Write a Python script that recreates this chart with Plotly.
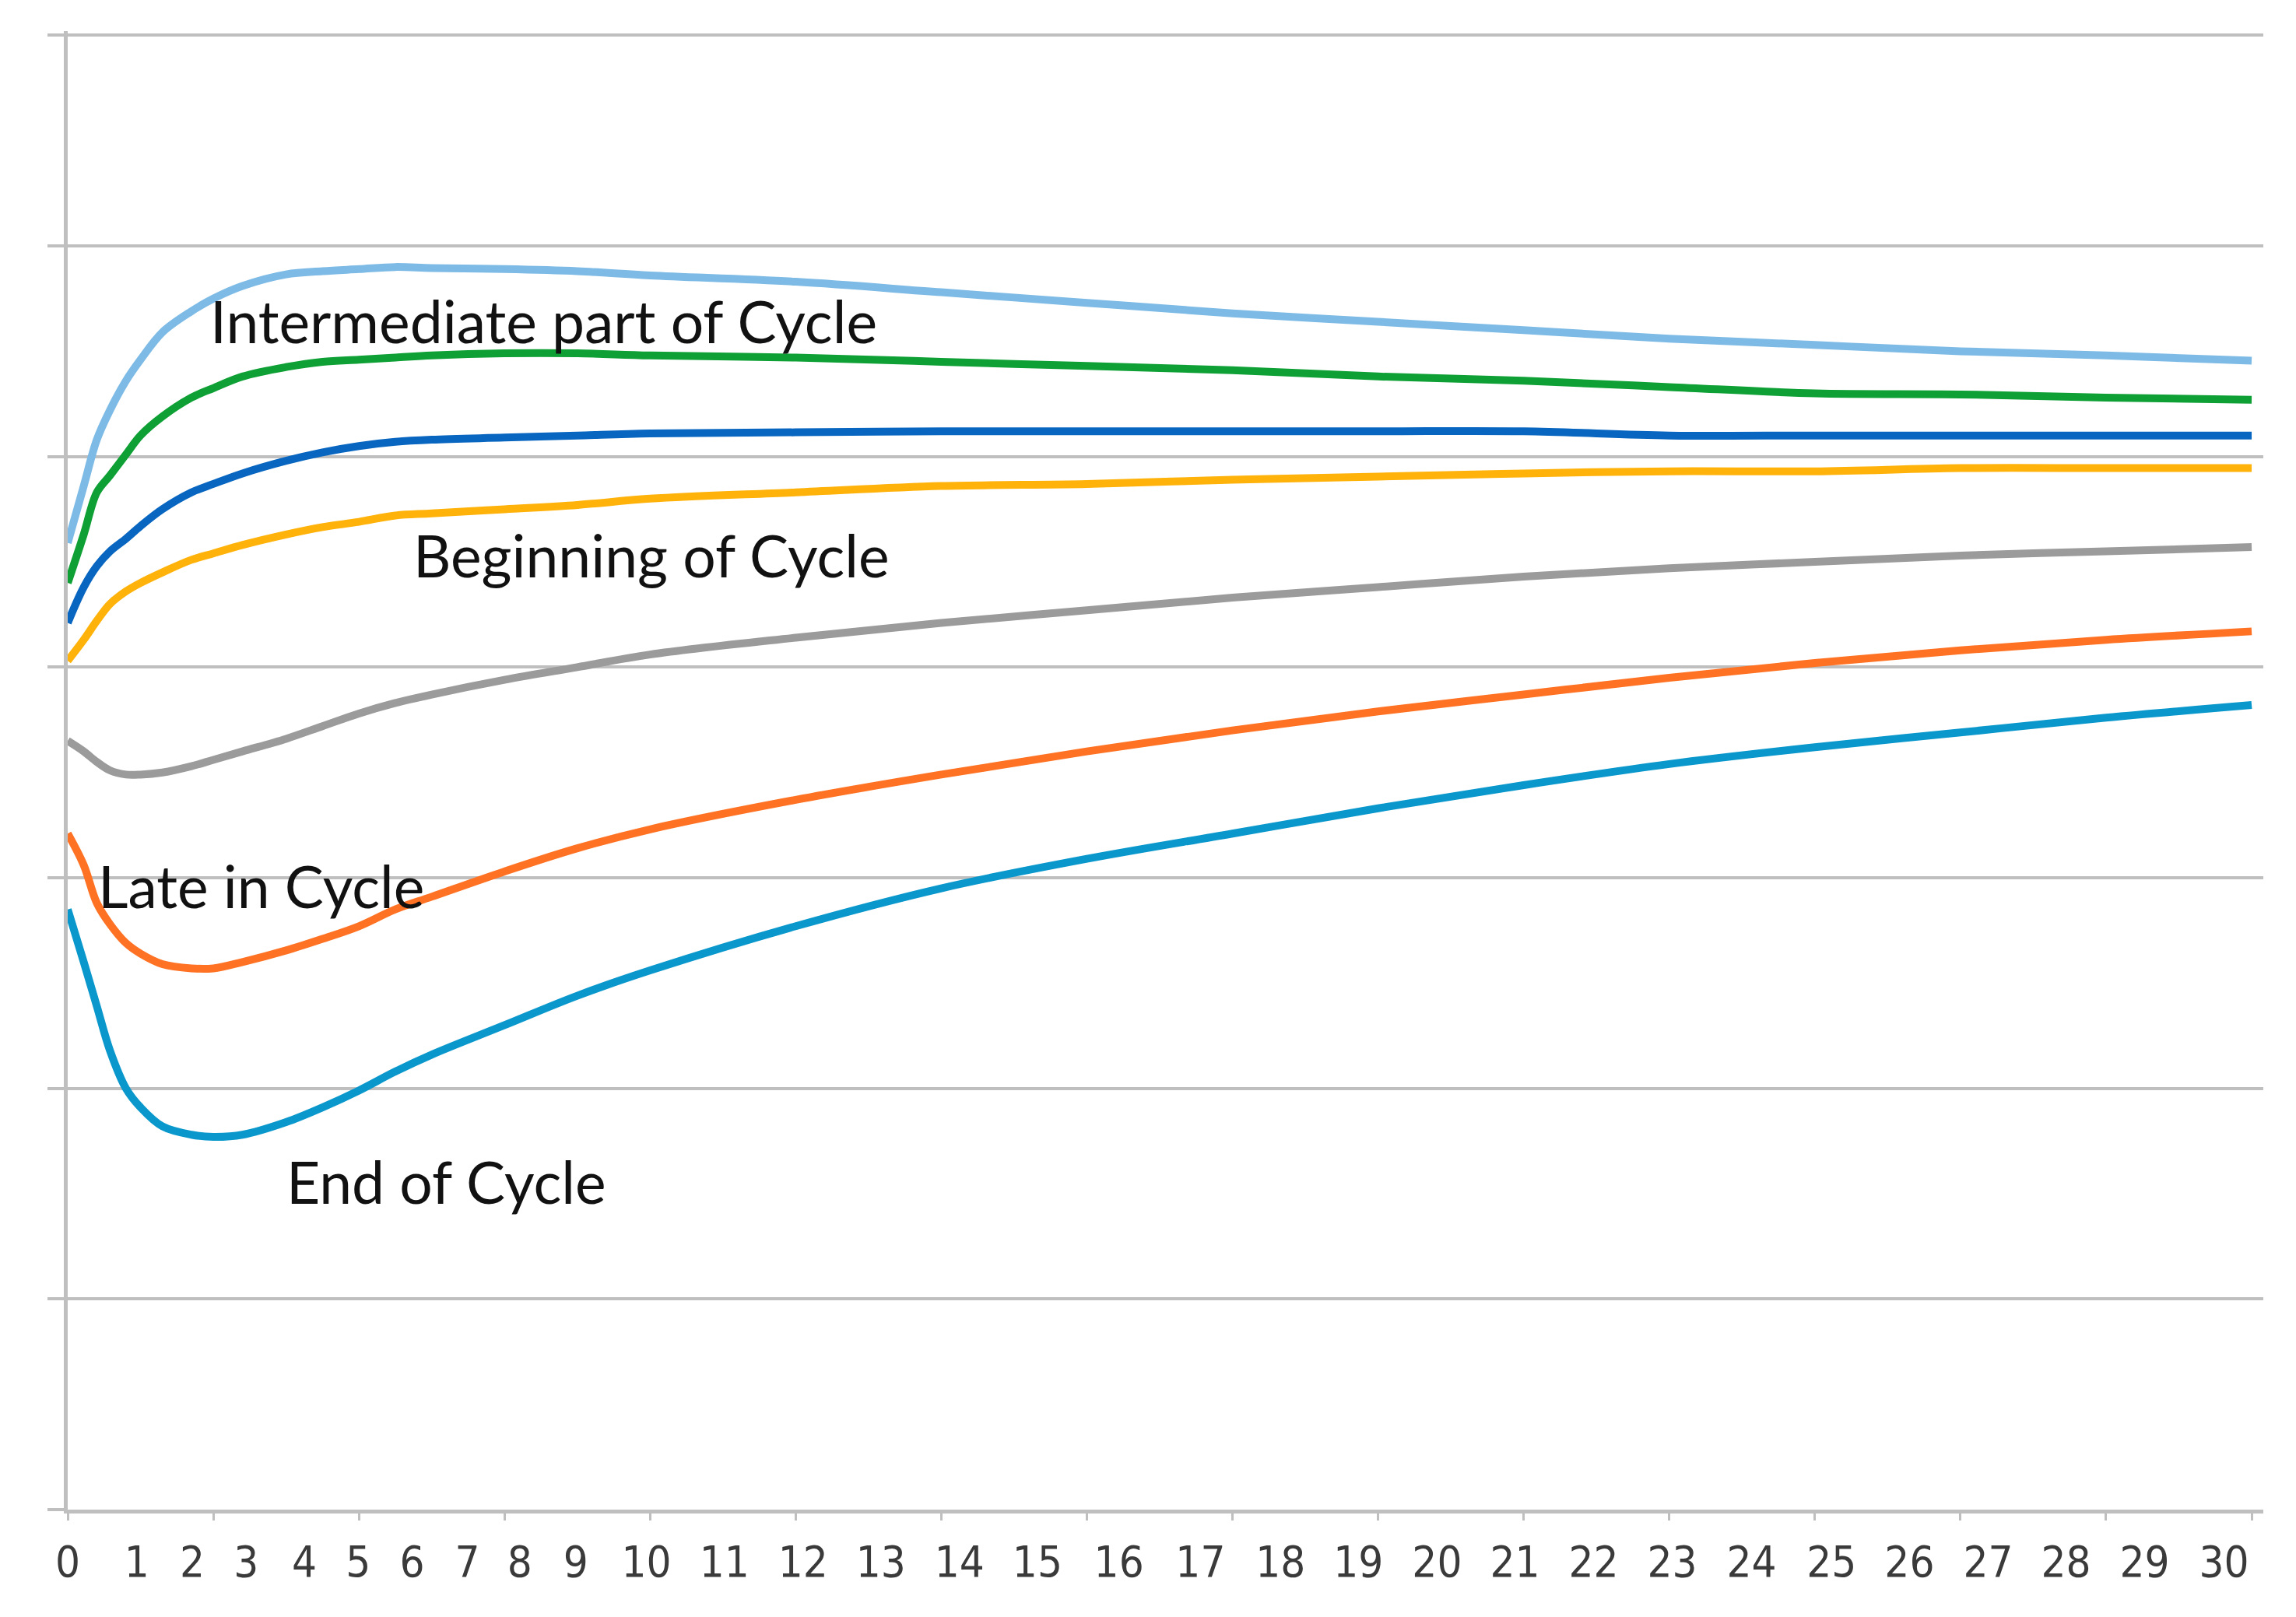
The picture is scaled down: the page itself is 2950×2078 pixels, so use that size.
import plotly.graph_objects as go

# time axis (years)
t = [0, 0.22, 0.4, 0.58, 0.8, 1.0, 1.3, 1.7, 2.0, 2.4, 3.0, 3.5, 4.0, 4.5,
     5, 6, 7, 8, 10, 12, 14, 16, 18, 20, 22, 24, 26, 28, 30]

intermediate_top = [4.59, 4.86, 5.08, 5.22, 5.36, 5.46, 5.59, 5.69, 5.75, 5.81, 5.865, 5.88, 5.89, 5.90,
                    5.895, 5.89, 5.88, 5.86, 5.83, 5.78, 5.73, 5.68, 5.64, 5.60, 5.56, 5.53, 5.50, 5.48, 5.455]
intermediate_mid = [4.40, 4.63, 4.83, 4.91, 5.01, 5.10, 5.19, 5.28, 5.325, 5.38, 5.425, 5.45, 5.46, 5.47,
                    5.48, 5.49, 5.49, 5.48, 5.47, 5.45, 5.43, 5.41, 5.38, 5.36, 5.33, 5.30, 5.295, 5.28, 5.27]
intermediate_low = [4.21, 4.38, 4.48, 4.55, 4.61, 4.67, 4.75, 4.83, 4.87, 4.92, 4.98, 5.02, 5.05, 5.07,
                    5.08, 5.09, 5.10, 5.11, 5.115, 5.12, 5.12, 5.12, 5.12, 5.12, 5.10, 5.10, 5.10, 5.10, 5.10]
beginning = [4.03, 4.13, 4.22, 4.30, 4.36, 4.40, 4.45, 4.51, 4.54, 4.58, 4.63, 4.665, 4.69, 4.72,
             4.73, 4.75, 4.77, 4.80, 4.83, 4.86, 4.87, 4.89, 4.905, 4.92, 4.93, 4.93, 4.945, 4.945, 4.945]
transition = [3.65, 3.60, 3.55, 3.51, 3.49, 3.49, 3.50, 3.53, 3.56, 3.60, 3.66, 3.72, 3.78, 3.83,
              3.87, 3.94, 4.00, 4.06, 4.14, 4.21, 4.27, 4.33, 4.38, 4.43, 4.47, 4.50, 4.53, 4.55, 4.57]
late = [3.21, 3.06, 2.88, 2.78, 2.69, 2.64, 2.59, 2.57, 2.57, 2.60, 2.655, 2.71, 2.77, 2.85,
        2.91, 3.03, 3.14, 3.23, 3.37, 3.49, 3.60, 3.70, 3.79, 3.87, 3.95, 4.02, 4.08, 4.13, 4.17]
end = [2.85, 2.60, 2.39, 2.18, 2.00, 1.91, 1.82, 1.78, 1.77, 1.78, 1.84, 1.91, 1.99, 2.08,
       2.16, 2.30, 2.44, 2.56, 2.77, 2.95, 3.09, 3.21, 3.33, 3.44, 3.54, 3.62, 3.69, 3.76, 3.82]

series_names = ["Intermediate (upper)", "Intermediate", "Intermediate (lower)",
                "Beginning of Cycle", "Transition", "Late in Cycle", "End of Cycle"]
series_values = [intermediate_top, intermediate_mid, intermediate_low, beginning, transition, late, end]
series_colors = ["#7dbbe6", "#0fa035", "#0866c0", "#ffb20a", "#9b9b9b", "#ff7224", "#0a98cc"]

# x tick labels and where they sit along the axis (as printed in the original)
tick_labels = [str(i) for i in range(31)]
label_pos = [0.0, 0.95, 1.71, 2.45, 3.25, 3.99, 4.73, 5.49, 6.21, 6.98, 7.95, 9.02, 10.10, 11.17,
             12.25, 13.32, 14.44, 15.56, 16.66, 17.73, 18.81, 19.88, 20.96, 22.04, 23.13, 24.23,
             25.30, 26.38, 27.45, 28.53, 29.62]

# text labels inside the plot
label_texts = ["Intermediate part of Cycle", "Beginning of Cycle", "Late in Cycle", "End of Cycle"]
label_x = [1.93, 4.73, 0.40, 2.98]
label_y = [5.645, 4.535, 2.965, 1.56]

GRID = "#bfbfbf"

fig = go.Figure()
for name, vals, col in zip(series_names, series_values, series_colors):
    fig.add_trace(go.Scatter(x=t, y=vals, mode="lines", name=name,
                             line=dict(color=col, width=10, shape="spline", smoothing=1.0)))

for txt, lx, ly in zip(label_texts, label_x, label_y):
    fig.add_annotation(x=lx, y=ly, xref="x", yref="y", text=txt, showarrow=False,
                       xanchor="left", yanchor="middle",
                       font=dict(family="Lato", size=75, color="#111111"))

fig.update_layout(
    width=2950, height=2078,
    margin=dict(l=79, r=50, t=32, b=146),
    paper_bgcolor="white", plot_bgcolor="white",
    showlegend=False,
)
fig.update_xaxes(
    range=[0, 30.16], showgrid=False, zeroline=False,
    showline=True, linecolor=GRID, linewidth=5,
    tickmode="array", tickvals=label_pos, ticktext=tick_labels,
    ticks="", ticklabelstandoff=14,
    tickfont=dict(family="Liberation Sans Narrow, DejaVu Sans Condensed, Liberation Sans", size=56, color="#3a3a3a"),
    minor=dict(ticks="outside", tick0=0, dtick=2, ticklen=9, tickwidth=3, tickcolor=GRID, showgrid=False),
)
fig.update_yaxes(
    range=[0, 7.02], dtick=1, tick0=0, showgrid=True, gridcolor=GRID, gridwidth=4,
    zeroline=False, showline=True, linecolor=GRID, linewidth=5,
    ticks="outside", ticklen=21, tickwidth=4, tickcolor=GRID, showticklabels=False,
)

fig.write_html("out.html")
